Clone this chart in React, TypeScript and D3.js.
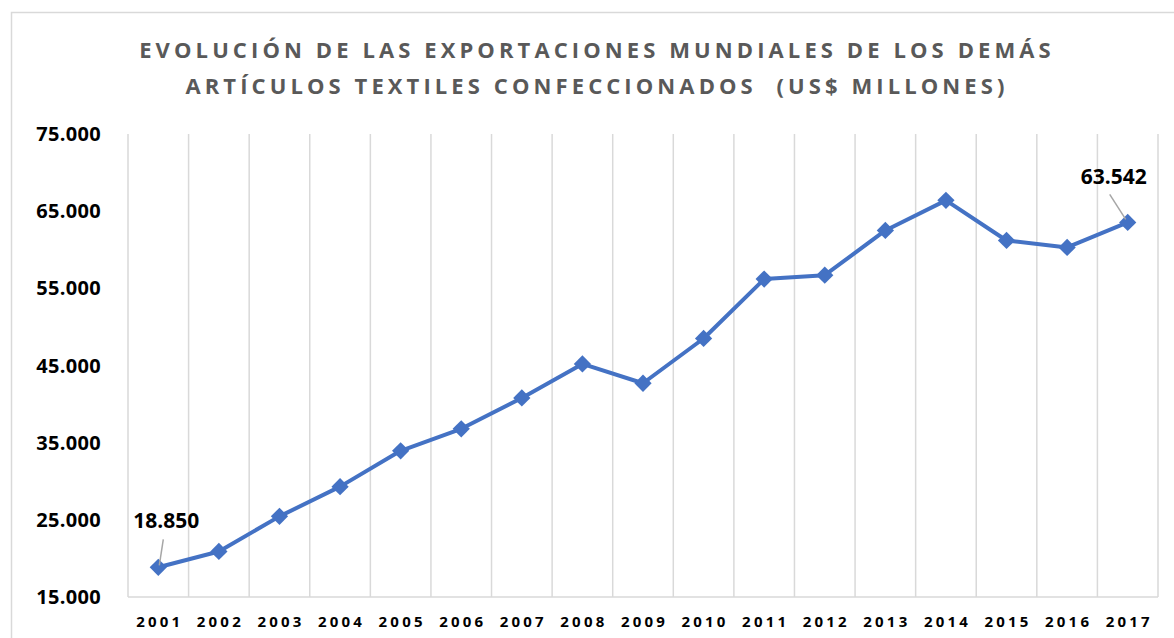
import { useRef, useEffect } from "react";
import * as d3 from "d3";

const years = ["2001", "2002", "2003", "2004", "2005", "2006", "2007", "2008", "2009",
  "2010", "2011", "2012", "2013", "2014", "2015", "2016", "2017"];
const exportsUsd = [18850, 20900, 25450, 29300, 33950, 36800, 40800, 45200, 42700,
  48500, 56200, 56700, 62500, 66400, 61200, 60300, 63542];
const yTicks = [15000, 25000, 35000, 45000, 55000, 65000, 75000];
const titleLines = [
  "EVOLUCIÓN DE LAS EXPORTACIONES MUNDIALES DE LOS DEMÁS",
  "ARTÍCULOS TEXTILES CONFECCIONADOS  (US$ MILLONES)",
];
const labelled = ["2001", "2017"];

export default function App() {
  const svgRef = useRef<SVGSVGElement>(null);

  useEffect(() => {
    const width = 1174;
    const height = 638;
    const M = { top: 134, right: 14, bottom: 41, left: 128 };
    const font = "'Open Sans', sans-serif";

    const svg = d3.select(svgRef.current)
      .attr("width", width)
      .attr("height", height)
      .style("display", "block")
      .style("position", "absolute")
      .style("left", 0)
      .style("top", 0);
    svg.selectAll("*").remove();

    const es = d3.formatLocale({ decimal: ",", thousands: ".", grouping: [3], currency: ["", "$"] });
    const fmt = es.format(",d");

    // chart frame
    svg.append("rect")
      .attr("x", 11.5).attr("y", 12.5)
      .attr("width", width + 10).attr("height", height + 10)
      .attr("fill", "#fff").attr("stroke", "#d9d9d9").attr("stroke-width", 1.5);

    const x = d3.scaleBand().domain(years).range([M.left, width - M.right - 2]);
    const y = d3.scaleLinear().domain([15000, 75000]).range([height - M.bottom, M.top]);

    // vertical grid lines between categories
    const edges = years.map(d => x(d)!).concat([x.range()[1]]);
    svg.append("g").selectAll("line").data(edges).join("line")
      .attr("x1", d => d).attr("x2", d => d)
      .attr("y1", y(75000)).attr("y2", y(15000))
      .attr("stroke", "#d9d9d9").attr("stroke-width", 1.5);

    svg.append("line")
      .attr("x1", x.range()[0]).attr("x2", x.range()[1])
      .attr("y1", y(15000)).attr("y2", y(15000))
      .attr("stroke", "#d9d9d9").attr("stroke-width", 1.5);

    // title
    svg.append("g").selectAll("text").data(titleLines).join("text")
      .attr("x", 597).attr("y", (d, i) => 58 + i * 36)
      .attr("text-anchor", "middle")
      .attr("font-family", font).attr("font-weight", 700).attr("font-size", 22)
      .attr("letter-spacing", 4.1)
      .attr("fill", "#595959")
      .style("white-space", "pre")
      .text(d => d);

    // y axis labels
    svg.append("g").selectAll("text").data(yTicks).join("text")
      .attr("x", 101).attr("y", d => y(d))
      .attr("dy", "0.35em")
      .attr("text-anchor", "end")
      .attr("font-family", font).attr("font-weight", 700).attr("font-size", 20)
      .attr("letter-spacing", 0.3)
      .attr("fill", "#000")
      .text(d => fmt(d));

    // x axis labels
    svg.append("g").selectAll("text").data(years).join("text")
      .attr("x", d => x(d)! + x.bandwidth() / 2 + 1.5).attr("y", 627)
      .attr("text-anchor", "middle")
      .attr("font-family", font).attr("font-weight", 700).attr("font-size", 15)
      .attr("letter-spacing", 3.2)
      .attr("fill", "#000")
      .text(d => d);

    const cx = (i: number) => x(years[i])! + x.bandwidth() / 2;
    const line = d3.line<number>()
      .x((d, i) => cx(i))
      .y(d => y(d));

    svg.append("path")
      .datum(exportsUsd)
      .attr("d", line)
      .attr("fill", "none")
      .attr("stroke", "#4472c4")
      .attr("stroke-width", 4)
      .attr("stroke-linejoin", "round");

    const diamond = d3.symbol().type(d3.symbolDiamond2).size(190);
    svg.append("g").selectAll("path").data(exportsUsd).join("path")
      .attr("transform", (d, i) => `translate(${cx(i)},${y(d)})`)
      .attr("d", diamond)
      .attr("fill", "#4472c4");

    // data labels with leader lines
    const lab = svg.append("g");
    labelled.forEach(yr => {
      const i = years.indexOf(yr);
      const px = cx(i);
      const py = y(exportsUsd[i]);
      const first = i === 0;
      const tx = first ? px + 8 : px - 14;
      const ty = first ? py - 47 : py - 46;
      lab.append("line")
        .attr("x1", first ? px + 5 : px - 18).attr("y1", first ? py - 28 : py - 28)
        .attr("x2", first ? px + 1 : px - 2).attr("y2", first ? py - 2 : py - 3)
        .attr("stroke", "#a6a6a6").attr("stroke-width", 1.5);
      lab.append("text")
        .attr("x", tx).attr("y", ty)
        .attr("dy", "0.35em")
        .attr("text-anchor", "middle")
        .attr("font-family", font).attr("font-weight", 700).attr("font-size", 21)
        .attr("fill", "#000")
        .text(fmt(exportsUsd[i]));
    });
  }, []);

  return (
    <div>
      <svg ref={svgRef}></svg>
    </div>
  );
}
